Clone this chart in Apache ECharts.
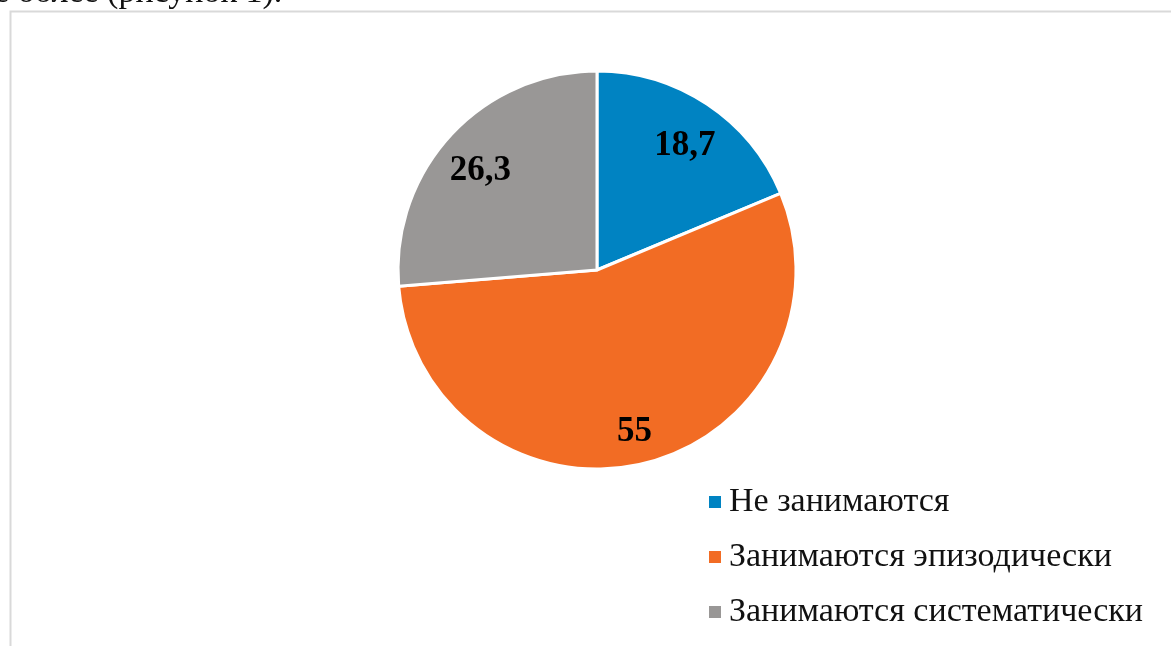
<!DOCTYPE html>
<html>
<head>
<meta charset="utf-8">
<style>
    html, body { margin: 0; padding: 0; background: #fff; }
    #pie-chart { width: 1171px; height: 646px; }
</style>
<script src="https://cdn.jsdelivr.net/npm/echarts@6/dist/echarts.min.js"></script>
</head>
<body>
<div id="pie-chart"></div>
<script>
var categories = ['Не занимаются', 'Занимаются эпизодически', 'Занимаются систематически'],
    values = [18.7, 55, 26.3],
    colors = ['#0083c2', '#f26c24', '#999796'];

var pieData = categories.map(function (name, i) {
    return { name: name, value: values[i], itemStyle: { color: colors[i] } };
});

// second (invisible) pie only carries labels, pushed out toward the rim
var labelData = categories.map(function (name, i) {
    return { name: name, value: values[i] };
});

var pieChart = null,
    pieOption = {
        animation: false,
        backgroundColor: '#fff',
        graphic: [{
            type: 'rect',
            left: 8,
            top: 9,
            shape: { width: 1250, height: 700 },
            style: { fill: 'none', stroke: '#d9d9d9', lineWidth: 2 }
        }, {
            type: 'text',
            left: -6,
            top: -24,
            style: {
                text: 'е более (рисунок 1).',
                font: '34px "Liberation Serif"',
                fill: '#111'
            }
        }],
        legend: {
            orient: 'vertical',
            left: 702,
            top: 480,
            itemWidth: 14,
            itemHeight: 14,
            itemGap: 21,
            icon: 'rect',
            data: categories,
            textStyle: {
                fontFamily: 'Liberation Serif',
                fontSize: 34,
                color: '#111',
                padding: [0, 0, 0, 2]
            }
        },
        series: [{
            name: 'main',
            type: 'pie',
            center: [597, 270],
            radius: [0, 199],
            startAngle: 90,
            clockwise: true,
            silent: true,
            label: { show: false },
            labelLine: { show: false },
            itemStyle: { borderColor: '#fff', borderWidth: 3 },
            data: pieData
        }, {
            name: 'labels',
            type: 'pie',
            center: [597, 270],
            radius: [112, 199],
            startAngle: 90,
            clockwise: true,
            silent: true,
            itemStyle: { color: 'rgba(0,0,0,0)' },
            label: {
                show: true,
                position: 'inside',
                offset: [0, 8],
                fontFamily: 'Liberation Serif',
                fontWeight: 'bold',
                fontSize: 35,
                color: '#000',
                formatter: function (p) {
                    return String(p.value).replace('.', ',');
                }
            },
            labelLine: { show: false },
            data: labelData
        }]
    };

pieChart = echarts.init(document.getElementById('pie-chart'));
pieChart.setOption(pieOption);
</script>
</body>
</html>
